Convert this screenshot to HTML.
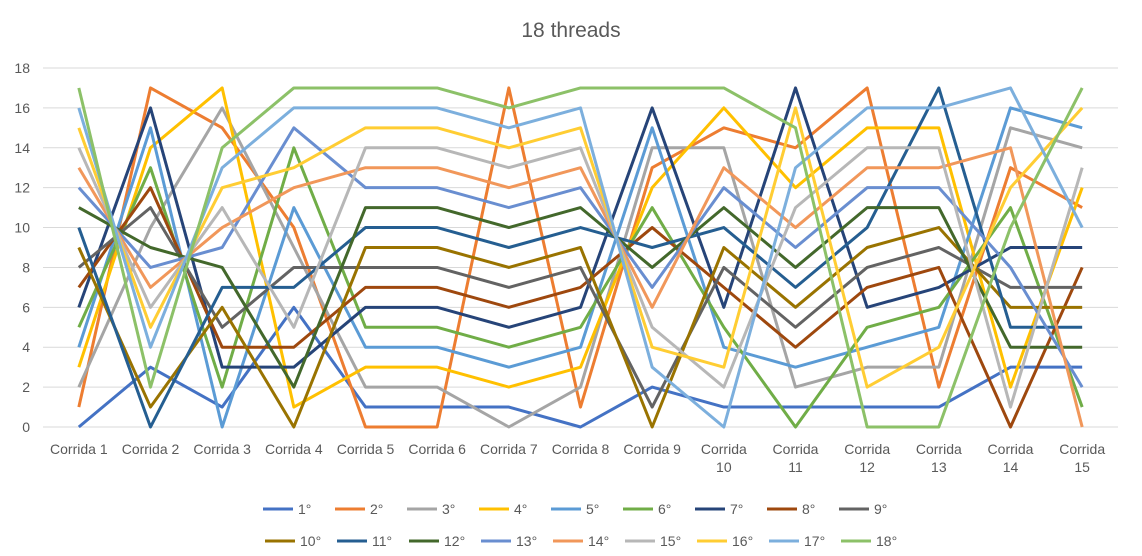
<!DOCTYPE html>
<html><head><meta charset="utf-8"><style>
body{margin:0;background:#fff;font-family:"Liberation Sans",sans-serif}
</style></head><body>
<svg id="chart" width="1142" height="556" xmlns="http://www.w3.org/2000/svg" style="display:block;background:#fff"></svg>
<script>
const categories=["Corrida 1","Corrida 2","Corrida 3","Corrida 4","Corrida 5","Corrida 6","Corrida 7","Corrida 8","Corrida 9","Corrida 10","Corrida 11","Corrida 12","Corrida 13","Corrida 14","Corrida 15"];
const seriesNames=["1°","2°","3°","4°","5°","6°","7°","8°","9°","10°","11°","12°","13°","14°","15°","16°","17°","18°"];
const yTicks=[0,2,4,6,8,10,12,14,16,18];
const s1=[0,3,1,6,1,1,1,0,2,1,1,1,1,3,3];
const s2=[1,17,15,10,0,0,17,1,13,15,14,17,2,13,11];
const s3=[2,10,16,9,2,2,0,2,14,14,2,3,3,15,14];
const s4=[3,14,17,1,3,3,2,3,12,16,12,15,15,2,12];
const s5=[4,15,0,11,4,4,3,4,15,4,3,4,5,16,15];
const s6=[5,13,2,14,5,5,4,5,11,5,0,5,6,11,1];
const s7=[6,16,3,3,6,6,5,6,16,6,17,6,7,9,9];
const s8=[7,12,4,4,7,7,6,7,10,7,4,7,8,0,8];
const s9=[8,11,5,8,8,8,7,8,1,8,5,8,9,7,7];
const s10=[9,1,6,0,9,9,8,9,0,9,6,9,10,6,6];
const s11=[10,0,7,7,10,10,9,10,9,10,7,10,17,5,5];
const s12=[11,9,8,2,11,11,10,11,8,11,8,11,11,4,4];
const s13=[12,8,9,15,12,12,11,12,7,12,9,12,12,8,2];
const s14=[13,7,10,12,13,13,12,13,6,13,10,13,13,14,0];
const s15=[14,6,11,5,14,14,13,14,5,2,11,14,14,1,13];
const s16=[15,5,12,13,15,15,14,15,4,3,16,2,4,12,16];
const s17=[16,4,13,16,16,16,15,16,3,0,13,16,16,17,10];
const s18=[17,2,14,17,17,17,16,17,17,17,15,0,0,10,17];
const allSeries=[s1,s2,s3,s4,s5,s6,s7,s8,s9,s10,s11,s12,s13,s14,s15,s16,s17,s18];
const colors=["#4472C4","#ED7D31","#A5A5A5","#FFC000","#5B9BD5","#70AD47","#264478","#9E480E","#636363","#997300","#255E91","#43682B","#698ED0","#F1975A","#B7B7B7","#FFCD33","#7CAFDD","#8CC168"];
const svg=document.getElementById('chart');
const NS="http://www.w3.org/2000/svg";
const L=43,R=1118,T=68,B=427;
const step=(R-L)/categories.length;
const xS=i=>L+step*(i+0.5);
const yS=v=>B-(v/18)*(B-T);
function mk(t,a){const e=document.createElementNS(NS,t);for(const k in a)e.setAttribute(k,a[k]);svg.appendChild(e);return e;}
const title=mk('text',{x:571,y:37,'text-anchor':'middle','font-size':21,fill:'#595959'});


title.textContent='18 threads';
yTicks.forEach(v=>{
  const g=mk('line',{x1:L,x2:R,y1:yS(v),y2:yS(v),stroke:'#d9d9d9','stroke-width':1});
  
  
  const t=mk('text',{x:30,y:yS(v)+5,'text-anchor':'end','font-size':14,fill:'#595959'});
  
  
  t.textContent=v;
});
categories.forEach((c,i)=>{
  const parts=c.split(' ');
  const num=parseInt(parts[1]);
  const t=mk('text',{x:xS(i),y:454,'text-anchor':'middle','font-size':14,fill:'#595959'});
  
  
  if(num>=10){
    const a=document.createElementNS(NS,'tspan');a.setAttribute('x',xS(i));a.textContent=parts[0];t.appendChild(a);
    const b=document.createElementNS(NS,'tspan');b.setAttribute('x',xS(i));b.setAttribute('dy',18);b.textContent=parts[1];t.appendChild(b);
  } else t.textContent=c;
});
allSeries.forEach((s,k)=>{
  const p=mk('polyline',{points:s.map((v,i)=>xS(i)+','+yS(v)).join(' '),fill:'none',stroke:colors[k],'stroke-width':3,'stroke-linejoin':'round'});
  
  
});
seriesNames.forEach((n,k)=>{
  const row=k<9?0:1, col=k<9?k:k-9;
  const x0=(row?265:263)+col*72, y=row?541:509;
  const g=document.createElementNS(NS,'g');
  
  
  svg.appendChild(g);
  const ln=document.createElementNS(NS,'line');
  ln.setAttribute('x1',x0);ln.setAttribute('x2',x0+30);ln.setAttribute('y1',y);ln.setAttribute('y2',y);
  ln.setAttribute('stroke',colors[k]);ln.setAttribute('stroke-width',3);
  g.appendChild(ln);
  const t=document.createElementNS(NS,'text');
  t.setAttribute('x',x0+35);t.setAttribute('y',y+5);t.setAttribute('font-size',14);t.setAttribute('fill','#595959');
  t.textContent=n;g.appendChild(t);
});
</script>
</body></html>
